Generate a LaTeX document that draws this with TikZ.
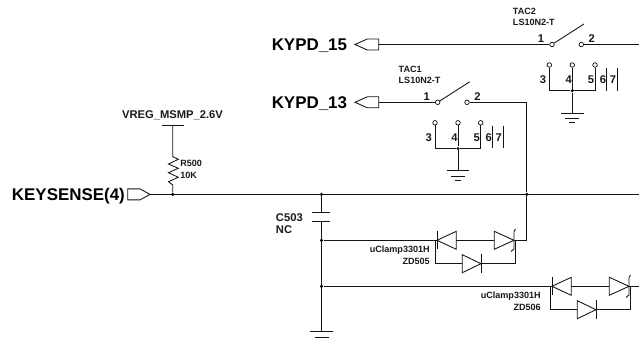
\documentclass[tikz,border=0pt]{standalone}
\usepackage{fontspec}
\setmainfont{Liberation Sans}
\usetikzlibrary{calc}
\tikzset{
	wire/.style={line width=0.65pt, color=black!92},
	pincirc/.style={circle, draw, line width=0.5pt, fill=white, inner sep=0pt, minimum size=3.4pt},
	junct/.style={circle, fill=black, inner sep=0pt, minimum size=2.6pt},
	netlabel/.style={inner sep=0pt, font=\fontsize{12.7}{13}\selectfont\bfseries},
	partlabel/.style={inner sep=0pt, font=\fontsize{6.8}{7}\selectfont\bfseries, color=black!90},
	midlabel/.style={inner sep=0pt, font=\fontsize{8.4}{9}\selectfont\bfseries, color=black!90}
}
% ground symbol, #1 is a named point
\def\gndsym(#1){
	\draw[wire] ($(#1)+(-11.3,0)$) -- ($(#1)+(11.3,0)$);
	\draw[wire] ($(#1)+(-7,5.3)$) -- ($(#1)+(7,5.3)$);
	\draw[wire] ($(#1)+(-2.9,9.7)$) -- ($(#1)+(2.9,9.7)$);
}
% tact switch, coordinates are those of TAC2
\def\tacswitch(#1,#2)#3#4{
	\begin{scope}[shift={(#1,#2)}]
		\node[pincirc] (#3a) at (552, 44.5) {};
		\node[pincirc] (#3b) at (581.3, 44.5) {};
		\coordinate (#3tip) at (584, 24);
		\draw[wire] (#3a) -- (#3tip);
		\node[pincirc] (#3l) at (549.3, 65) {};
		\node[pincirc] (#3m) at (572.3, 65) {};
		\node[pincirc] (#3r) at (595, 65) {};
		\node[junct] (#3j) at (572.3, 90.7) {};
		\coordinate (#3g) at (572.3, 113);
		\draw[wire] (#3l) |- (#3j);
		\draw[wire] (#3r) |- (#3j);
		\draw[wire] (#3m) -- (#3j) -- (#3g);
		\gndsym(#3g)
		\draw[wire] (606.7, 68) -- (606.7, 90.7);
		\draw[wire] (617.7, 68) -- (617.7, 90.7);
		\node[partlabel, anchor=base west] (#3name) at (512.7, 14.3) {#4};
		\node[partlabel, anchor=base west] (#3part) at (512.7, 25.3) {LS10N2-T};
		\node[midlabel, anchor=base] (#3n1) at (541, 43) {1};
		\node[midlabel, anchor=base] (#3n2) at (591.7, 43) {2};
		\node[midlabel, anchor=base] (#3n3) at (543, 84) {3};
		\node[midlabel, anchor=base] (#3n4) at (568.7, 84) {4};
		\node[midlabel, anchor=base] (#3n5) at (591, 84) {5};
		\node[midlabel, anchor=base] (#3n6) at (603, 84) {6};
		\node[midlabel, anchor=base] (#3n7) at (613, 84) {7};
	\end{scope}
}
% clamp diode group, coordinates are those of ZD505
\def\uclamp(#1,#2)#3{
	\begin{scope}[shift={(#1,#2)}]
		\coordinate (#3in) at (437, 240.3);
		\coordinate (#3base) at (456.3, 240.3);
		\coordinate (#3zb) at (494.3, 240.3);
		\coordinate (#3zt) at (514, 240.3);
		\coordinate (#3out) at (515, 240.3);
		\coordinate (#3lo) at (435, 240.3);
		\coordinate (#3db) at (462.3, 263.7);
		\coordinate (#3dt) at (481, 263.7);
		\draw[wire] (#3in) -- (456.3, 231.3) -- (456.3, 249.3) -- cycle;
		\draw[wire] (437, 231) -- (437, 249.5);
		\draw[wire] (#3base) -- (#3zb);
		\draw[wire] (#3zt) -- (494.3, 231.3) -- (494.3, 249.3) -- cycle;
		\draw[wire] (515.5, 229) -- (514, 231.5) -- (514, 249) -- (511, 251.5);
		\draw[wire] (#3lo) |- (#3db);
		\draw[wire] (#3dt) -| (#3out);
		\draw[wire] (#3dt) -- (#3db |- 0, 254.7) -- (#3db |- 0, 272.7) -- cycle;
		\draw[wire] (481, 254.5) -- (481, 273);
	\end{scope}
}

\begin{document}
\begin{tikzpicture}[x=0.75pt, y=-0.75pt]
	\useasboundingbox (0, 0) rectangle (639, 341);

	%%%%% switches %%%%%
	\tacswitch(0,0){tactwo}{TAC2}
	\tacswitch(-114.3,57.8){tacone}{TAC1}

	\node[netlabel, anchor=base west] (kypdfif) at (271.5, 51) {KYPD\_15};
	\node[netlabel, anchor=base west] (kypdthi) at (271.5, 108.5) {KYPD\_13};

	\coordinate (flagfif) at (378.7, 44.5);
	\coordinate (flagthi) at (378.7, 102.3);
	\draw[wire] (355, 44.5) -- (367.3, 39) -- (378.7, 39) -- (378.7, 50) -- (367.3, 50) -- cycle;
	\draw[wire] (355, 102.3) -- (367.3, 96.8) -- (378.7, 96.8) -- (378.7, 107.8) -- (367.3, 107.8) -- cycle;
	\draw[wire] (flagfif) -- (tactwoa);
	\draw[wire] (flagthi) -- (taconea);

	\coordinate (endtop) at (639, 44.5);
	\draw[wire] (tactwob) -- (endtop);

	%%%%% main line %%%%%
	\node[netlabel, anchor=base west] (keysense) at (11.7, 201) {KEYSENSE(4)};
	\coordinate (flagkey) at (150, 194.4);
	\coordinate (endmain) at (639, 194.4);
	\draw[wire] (flagkey) -- (140, 188.9) -- (127.7, 188.9) -- (127.7, 199.9) -- (140, 199.9) -- cycle;
	\draw[wire] (flagkey) -- (endmain);

	\node[junct] (jres) at (172.7, 194.4) {};
	\node[junct] (jcap) at (321.5, 194.4) {};
	\node[junct] (jsw) at (526.7, 194.4) {};

	%%%%% pull up %%%%%
	\node[midlabel, anchor=base] (vreg) at (172.5, 118.3) {VREG\_MSMP\_2.6V};
	\coordinate (vregbar) at (172.7, 125);
	\draw[wire] (161.7, 125) -- (184.3, 125);
	\draw[wire] (vregbar) -- (172.7, 156.7) -- (178.3, 159.3) -- (168.5, 164) -- (178.3, 168.3) -- (168.5, 172.7) -- (178.3, 177.3) -- (168.5, 181.7) -- (172.7, 185) -- (jres);
	\node[partlabel, anchor=base west] (rname) at (180, 167) {R500};
	\node[partlabel, anchor=base west] (rval) at (180, 178.3) {10K};

	%%%%% capacitor %%%%%
	\coordinate (capa) at (321.5, 212.7);
	\coordinate (capb) at (321.5, 221.7);
	\coordinate (gndcap) at (321.5, 331.7);
	\draw[wire] (jcap) -- (capa);
	\draw[wire] (312.3, 212.7) -- (330.3, 212.7);
	\draw[wire] (312.3, 221.7) -- (330.3, 221.7);
	\draw[wire] (capb) -- (gndcap);
	\gndsym(gndcap)
	\node[midlabel, anchor=base west] (cname) at (275.7, 222) {C503};
	\node[midlabel, anchor=base west] (cval) at (275.7, 234) {NC};

	\node[junct] (jcla) at (321.5, 240.3) {};
	\node[junct] (jclb) at (321.5, 286.3) {};

	%%%%% clamps %%%%%
	\uclamp(0,0){zda}
	\uclamp(115,46){zdb}

	\draw[wire] (jcla) -- (zdain);
	\draw[wire] (jclb) -- (zdbin);
	\coordinate (endclamp) at (639, 286.3);
	\draw[wire] (zdbzt) -- (endclamp);

	\draw[wire] (taconeb) -| (jsw);
	\draw[wire] (jsw) |- (zdazt);

	\node[partlabel, anchor=base east] (zdapart) at (430, 252.7) {uClamp3301H};
	\node[partlabel, anchor=base east] (zdaname) at (430, 264.7) {ZD505};
	\node[partlabel, anchor=base east] (zdbpart) at (541, 298.7) {uClamp3301H};
	\node[partlabel, anchor=base east] (zdbname) at (541, 310.7) {ZD506};
\end{tikzpicture}
\end{document}
